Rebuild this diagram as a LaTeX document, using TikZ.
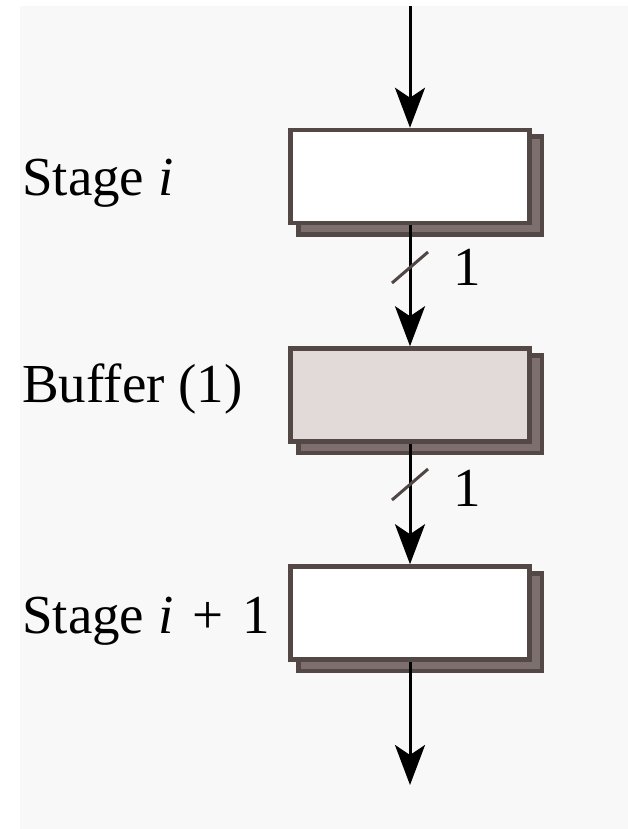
\documentclass[tikz,border=0pt]{standalone}
\usepackage{fontspec}
\setmainfont{Liberation Serif}
\usetikzlibrary{arrows.meta,positioning,calc}
\pgfdeclarelayer{bg}
\pgfsetlayers{bg,main}
\definecolor{edgegray}{RGB}{84,72,70}
\definecolor{shadowfill}{RGB}{125,111,109}
\definecolor{buffill}{RGB}{226,218,217}
\definecolor{slashgray}{RGB}{80,70,68}
\definecolor{bggray}{RGB}{248,248,248}
\begin{document}
\begin{tikzpicture}[x = 1pt, y = -1pt,
  stagebox/.style = {draw = edgegray, line width = 4.5pt, fill = white, minimum width = 239pt, minimum height = 93pt, inner sep = 0pt},
  bufbox/.style = {stagebox, fill = buffill},
  shadowbox/.style = {draw = edgegray, line width = 4.5pt, fill = shadowfill},
  lab/.style = {font = \fontsize{55}{60}\selectfont, inner sep = 0pt},
  flow/.style = {line width = 3pt, -{Stealth[length = 40pt, width = 30pt, inset = 10pt]}},
  slash/.style = {line width = 3pt, draw = slashgray}]
\node[stagebox] (s1) at (410,176.5) {};
\node[bufbox] (b1) at (410,395) {};
\node[stagebox] (s2) at (410,613) {};
\coordinate (src) at (410,6);
\coordinate (snk) at (410,785);
\coordinate (m1) at (410,267);
\coordinate (m2) at (410,484);
\begin{pgfonlayer}{bg}
\fill[white] (0,0) rectangle (628,829);
\fill[bggray] (20,6) rectangle (628,829);
\draw[shadowbox] ([shift = {(10,9)}]s1.north west) rectangle ([shift = {(10,9)}]s1.south east);
\draw[shadowbox] ([shift = {(10,9)}]b1.north west) rectangle ([shift = {(10,9)}]b1.south east);
\draw[shadowbox] ([shift = {(10,9)}]s2.north west) rectangle ([shift = {(10,9)}]s2.south east);
\end{pgfonlayer}
\draw[flow] (src) -- (s1);
\draw[flow] (s1) -- (b1);
\draw[flow] (b1) -- (s2);
\draw[flow] (s2) -- (snk);
\draw[slash] ([shift = {(-18,16)}]m1) -- ([shift = {(18,-15)}]m1);
\draw[slash] ([shift = {(-18,16)}]m2) -- ([shift = {(18,-15)}]m2);
\node[lab] (w1) at (467,267) {1};
\node[lab] (w2) at (467,488) {1};
\node[lab, anchor = base west] (l1) at (22,195) {Stage \textit{i}};
\node[lab, anchor = base west] (l2) at (22,402) {Buffer (1)};
\node[lab, anchor = base west] (l3) at (22,633) {Stage \textit{i}\hspace{19pt}+\hspace{19pt}1};
\end{tikzpicture}
\end{document}
